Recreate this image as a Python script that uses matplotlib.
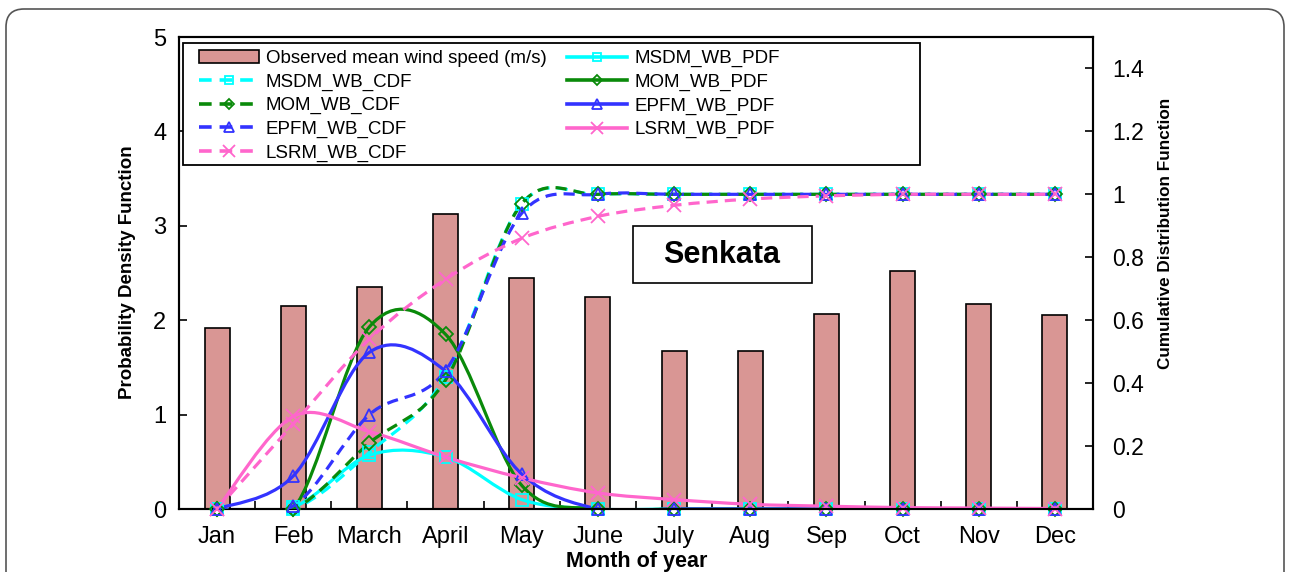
import matplotlib
matplotlib.use("Agg")
import matplotlib.pyplot as plt
import numpy as np
from matplotlib.path import Path
from matplotlib.patches import PathPatch, Rectangle, FancyBboxPatch
from matplotlib.lines import Line2D
from matplotlib.transforms import IdentityTransform

plt.rcParams["font.family"] = ["Liberation Sans", "DejaVu Sans"]

# Data
months = ["Jan", "Feb", "March", "April", "May", "June", "July", "Aug", "Sep", "Oct", "Nov", "Dec"]
wind_speed = [1.92, 2.15, 2.35, 3.12, 2.45, 2.25, 1.67, 1.67, 2.07, 2.52, 2.17, 2.05]

msdm_pdf = [0.0, 0.02, 0.57, 0.55, 0.10, 0.0, 0.0, 0.0, 0.0, 0.0, 0.0, 0.0]
mom_pdf = [0.0, 0.0, 1.93, 1.85, 0.25, 0.0, 0.0, 0.0, 0.0, 0.0, 0.0, 0.0]
epfm_pdf = [0.0, 0.35, 1.66, 1.46, 0.37, 0.0, 0.0, 0.0, 0.0, 0.0, 0.0, 0.0]
lsrm_pdf = [0.0, 0.98, 0.82, 0.55, 0.33, 0.17, 0.10, 0.05, 0.03, 0.015, 0.01, 0.005]

msdm_cdf = [0.0, 0.0, 0.18, 0.42, 0.97, 1.0, 1.0, 1.0, 1.0, 1.0, 1.0, 1.0]
mom_cdf = [0.0, 0.0, 0.21, 0.41, 0.97, 1.0, 1.0, 1.0, 1.0, 1.0, 1.0, 1.0]
epfm_cdf = [0.0, 0.01, 0.30, 0.44, 0.94, 1.0, 1.0, 1.0, 1.0, 1.0, 1.0, 1.0]
lsrm_cdf = [0.0, 0.27, 0.54, 0.73, 0.86, 0.93, 0.965, 0.985, 0.995, 1.0, 1.0, 1.0]

CYAN = "#00FFFF"
GREEN = "#0A8A0A"
BLUE = "#3333FF"
PINK = "#FF66CC"
BAR = "#D99694"
DASH = (0, (3.5, 2.2))


def smooth_path(x, y):
    # Excel-style smoothed line: cubic Bezier segments through the points
    x = list(x)
    y = list(y)
    n = len(x)
    verts = [(x[0], y[0])]
    codes = [Path.MOVETO]
    for i in range(n - 1):
        i0 = max(i - 1, 0)
        i3 = min(i + 2, n - 1)
        c1 = (x[i] + (x[i + 1] - x[i0]) / 6, y[i] + (y[i + 1] - y[i0]) / 6)
        c2 = (x[i + 1] - (x[i3] - x[i]) / 6, y[i + 1] - (y[i3] - y[i]) / 6)
        verts += [c1, c2, (x[i + 1], y[i + 1])]
        codes += [Path.CURVE4] * 3
    return Path(verts, codes)


fig = plt.figure(figsize=(12.9, 5.72), dpi=100)
ax = fig.add_axes([179 / 1290, 1 - 509 / 572, 914 / 1290, 472 / 572])
ax2 = ax.twinx()

x = np.arange(len(months))
ax.bar(x, wind_speed, 0.33, color=BAR, edgecolor="black", linewidth=1.2, zorder=1)

series = [
    (ax2, msdm_cdf, CYAN, "--", "s", 8, "MSDM_WB_CDF"),
    (ax2, mom_cdf, GREEN, "--", "D", 7, "MOM_WB_CDF"),
    (ax2, epfm_cdf, BLUE, "--", "^", 9, "EPFM_WB_CDF"),
    (ax2, lsrm_cdf, PINK, "--", "x", 10, "LSRM_WB_CDF"),
    (ax, msdm_pdf, CYAN, "-", "s", 8, "MSDM_WB_PDF"),
    (ax, mom_pdf, GREEN, "-", "D", 7, "MOM_WB_PDF"),
    (ax, epfm_pdf, BLUE, "-", "^", 9, "EPFM_WB_PDF"),
    (ax, lsrm_pdf, PINK, "-", "x", 10, "LSRM_WB_PDF"),
]

handles = [Rectangle((0, 0), 1, 1, facecolor=BAR, edgecolor="black", linewidth=1.2)]
labels = ["Observed mean wind speed (m/s)"]
for a, vals, col, ls, mk, ms, lab in series:
    style = DASH if ls == "--" else "-"
    a.add_patch(PathPatch(smooth_path(x, vals), fill=False, edgecolor=col, lw=2.3,
                          linestyle=style, zorder=3))
    a.plot(x, vals, linestyle="none", marker=mk, markersize=ms, mfc="none",
           mec=col, mew=1.3, clip_on=False, zorder=4)
    handles.append(Line2D([], [], color=col, lw=2.6, linestyle=style,
                          marker=mk, markersize=ms - 2, mfc="none", mec=col, mew=1.3))
    labels.append(lab)

ax.set_xlim(-0.5, 11.5)
ax.set_ylim(0, 5)
ax2.set_ylim(0, 1.5)

ax.set_xticks(x)
ax.set_xticklabels(months, fontsize=17)
ax.set_xticks(np.arange(0.5, 11, 1), minor=True)
ax.tick_params(axis="x", which="major", length=0, pad=12)
ax.tick_params(axis="x", which="minor", length=6, direction="in", width=1.2)
ax.set_yticks([0, 1, 2, 3, 4, 5])
ax.tick_params(axis="y", direction="in", length=6, width=1.2, labelsize=17, pad=9)
ax2.set_yticks([0, 0.2, 0.4, 0.6, 0.8, 1, 1.2, 1.4])
ax2.set_yticklabels(["0", "0.2", "0.4", "0.6", "0.8", "1", "1.2", "1.4"])
ax2.tick_params(axis="y", direction="in", length=6, width=1.2, labelsize=16.5, pad=14)
for a in (ax, ax2):
    for s in a.spines.values():
        s.set_linewidth(1.5)

# legend frame and legend
ax2.add_patch(Rectangle((0.0044, 0.7288), 0.8063, 0.2582, transform=ax2.transAxes,
                        facecolor="white", edgecolor="black", lw=1.3, zorder=5))
leg = ax2.legend(handles, labels, ncol=2, loc="upper left",
                 bbox_to_anchor=(0.0219, 0.9725), frameon=False, fontsize=13.5,
                 handlelength=3.2, handletextpad=0.37, columnspacing=1.1,
                 labelspacing=0.34, borderaxespad=0, borderpad=0)
leg.set_zorder(6)

# station label
ax2.add_patch(Rectangle((0.497, 0.4788), 0.1956, 0.1208, transform=ax2.transAxes,
                        facecolor="white", edgecolor="black", lw=1.2, zorder=5))
ax2.text(0.594, 0.538, "Senkata", transform=ax2.transAxes, ha="center", va="center",
         fontsize=22, fontweight="bold", zorder=6)

fig.text(128 / 1290, 1 - 272 / 572, "Probability Density Function", rotation=90,
         ha="center", va="center", fontsize=13.5, fontweight="bold")
fig.text(1165 / 1290, 1 - 233 / 572, "Cumulative Distribution Function", rotation=90,
         ha="center", va="center", fontsize=12.3, fontweight="bold")
fig.text(637 / 1290, 0.5 / 572, "Month of year", ha="center", va="bottom",
         fontsize=15.5, fontweight="bold")

# rounded outer border
fig.patches.append(FancyBboxPatch((6, -30), 1278, 563 + 30,
                                  boxstyle="round,pad=0,rounding_size=18",
                                  transform=IdentityTransform(), facecolor="none",
                                  edgecolor="#555555", lw=1.2))

fig.savefig("out.png", dpi=100)
